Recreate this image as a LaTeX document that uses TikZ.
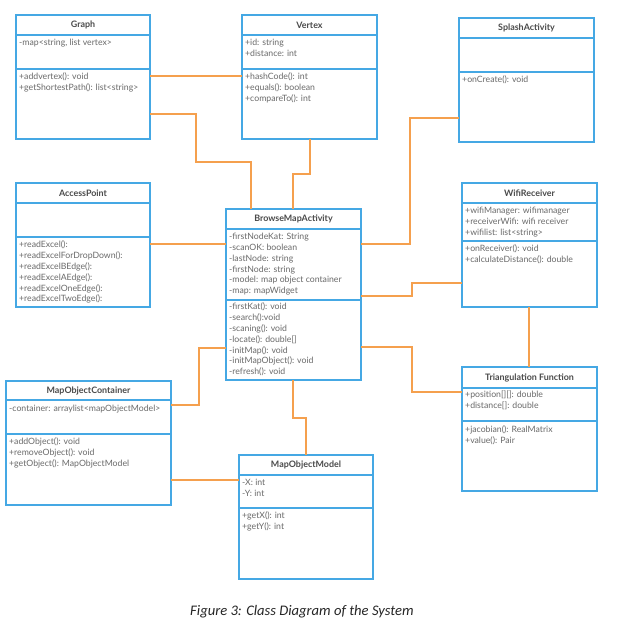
\documentclass[tikz,border=0pt]{standalone}
\usepackage{fontspec}
\setmainfont{Lato}
\newfontfamily\capfont{Carlito}
\definecolor{boxblue}{HTML}{45A8E4}
\definecolor{conn}{HTML}{F5A04E}
\definecolor{txt}{HTML}{6A6A6A}
\definecolor{ttl}{HTML}{4A4A4A}
\tikzset{
  box/.style={draw=boxblue, line width=1.3pt, fill=white, anchor=north west, inner sep=0pt, outer sep=0pt},
  div/.style={draw=boxblue, line width=1.3pt},
  conn/.style={draw=conn, line width=1.3pt},
  ttlnode/.style={font=\fontsize{8.9}{10}\selectfont\bfseries, text=ttl, inner sep=0pt},
  members/.style={font=\fontsize{8.7}{10.8}\selectfont, text=txt, align=left, anchor=north west, inner sep=0pt},
}
\newcommand{\classbox}[8]{%
  \node[box, minimum width={#4-#2}, minimum height={#5-#3}] (#1) at (#2,#3) {};
  \draw[div] (#1.west |- 0,#6) -- (#1.east |- 0,#6);
  \draw[div] (#1.west |- 0,#7) -- (#1.east |- 0,#7);
  \node[ttlnode] (#1-title) at ({(#2+#4)/2},{(#3+#6)/2}) {#8};
}
\begin{document}
\begin{tikzpicture}[x=1pt,y=-1pt]
\useasboundingbox (0,0) rectangle (635,629);
\fill[white] (0,0) rectangle (635,629);
% boxes
\classbox{graph}{16}{15}{150}{139}{35}{69}{Graph}
\node[members] (graph-a) at (19,39) {-map<string, list vertex>};
\node[members] (graph-m) at (19,73) {+addvertex(): void\\+getShortestPath(): list<string>};

\classbox{vertex}{242}{15}{377}{139}{35}{69}{Vertex}
\node[members] (vertex-a) at (245,39) {+id: string\\+distance: int};
\node[members] (vertex-m) at (245,73) {+hashCode(): int\\+equals(): boolean\\+compareTo(): int};

\classbox{splash}{459}{18}{594}{142}{38}{72}{SplashActivity}
\node[members] (splash-m) at (462,76) {+onCreate(): void};

\classbox{ap}{16}{183}{150}{307}{203}{237}{AccessPoint}
\node[members] (ap-m) at (19,241) {+readExcel():\\+readExcelForDropDown():\\+readExcelBEdge():\\+readExcelAEdge():\\+readExcelOneEdge():\\+readExcelTwoEdge():};

\classbox{bma}{226}{209}{361}{380}{229}{300}{BrowseMapActivity}
\node[members] (bma-a) at (229,233) {-firstNodeKat: String\\-scanOK: boolean\\-lastNode: string\\-firstNode: string\\-model: map object container\\-map: mapWidget};
\node[members] (bma-m) at (229,303) {-firstKat(): void\\-search():void\\-scaning(): void\\-locate(): double[]\\-initMap(): void\\-initMapObject(): void\\-refresh(): void};

\classbox{wifi}{462}{183}{597}{307}{203}{241}{WifiReceiver}
\node[members] (wifi-a) at (465,207) {+wifiManager: wifimanager\\+receiverWifi: wifi receiver\\+wifilist: list<string>};
\node[members] (wifi-m) at (465,245) {+onReceiver(): void\\+calculateDistance(): double};

\classbox{tri}{462}{367}{597}{491}{388}{421}{Triangulation Function}
\node[members] (tri-a) at (465,391) {+position[][]: double\\+distance[]: double};
\node[members] (tri-m) at (465,426) {+jacobian(): RealMatrix\\+value(): Pair};

\classbox{moc}{6}{381}{171}{505}{400}{434}{MapObjectContainer}
\node[members] (moc-a) at (9,405) {-container: arraylist<mapObjectModel>};
\node[members] (moc-m) at (9,438) {+addObject(): void\\+removeObject(): void\\+getObject(): MapObjectModel};

\classbox{mom}{239}{455}{373}{579}{475}{508}{MapObjectModel}
\node[members] (mom-a) at (242,479) {-X: int\\-Y: int};
\node[members] (mom-m) at (242,512) {+getX(): int\\+getY(): int};

% connectors
\draw[conn] (graph.east |- 0,76) -- (vertex.west |- 0,76);
\draw[conn] (graph.east |- 0,114) -- (196,114) -- (196,162) -- (251,162) -- (bma.north -| 251,0);
\draw[conn] (vertex.south -| 310,0) -- (310,174) -- (293,174) -- (bma.north -| 293,0);
\draw[conn] (splash.west |- 0,118) -- (410,118) -- (410,244) -- (bma.east |- 0,244);
\draw[conn] (ap.east |- 0,244) -- (bma.west |- 0,244);
\draw[conn] (bma.east |- 0,296) -- (412,296) -- (412,283) -- (wifi.west |- 0,283);
\draw[conn] (bma.east |- 0,347) -- (412,347) -- (412,392) -- (tri.west |- 0,392);
\draw[conn] (wifi.south -| 529,0) -- (tri.north -| 529,0);
\draw[conn] (bma.west |- 0,348) -- (199,348) -- (199,405) -- (moc.east |- 0,405);
\draw[conn] (bma.south -| 293,0) -- (293,418) -- (306,418) -- (mom.north -| 306,0);
\draw[conn] (moc.east |- 0,480) -- (mom.west |- 0,480);

% caption
\node[font=\capfont\itshape\fontsize{14.6}{16}\selectfont, text=black!85, inner sep=0pt] (caption) at (302,612) {Figure 3: Class Diagram of the System};
\end{tikzpicture}
\end{document}
